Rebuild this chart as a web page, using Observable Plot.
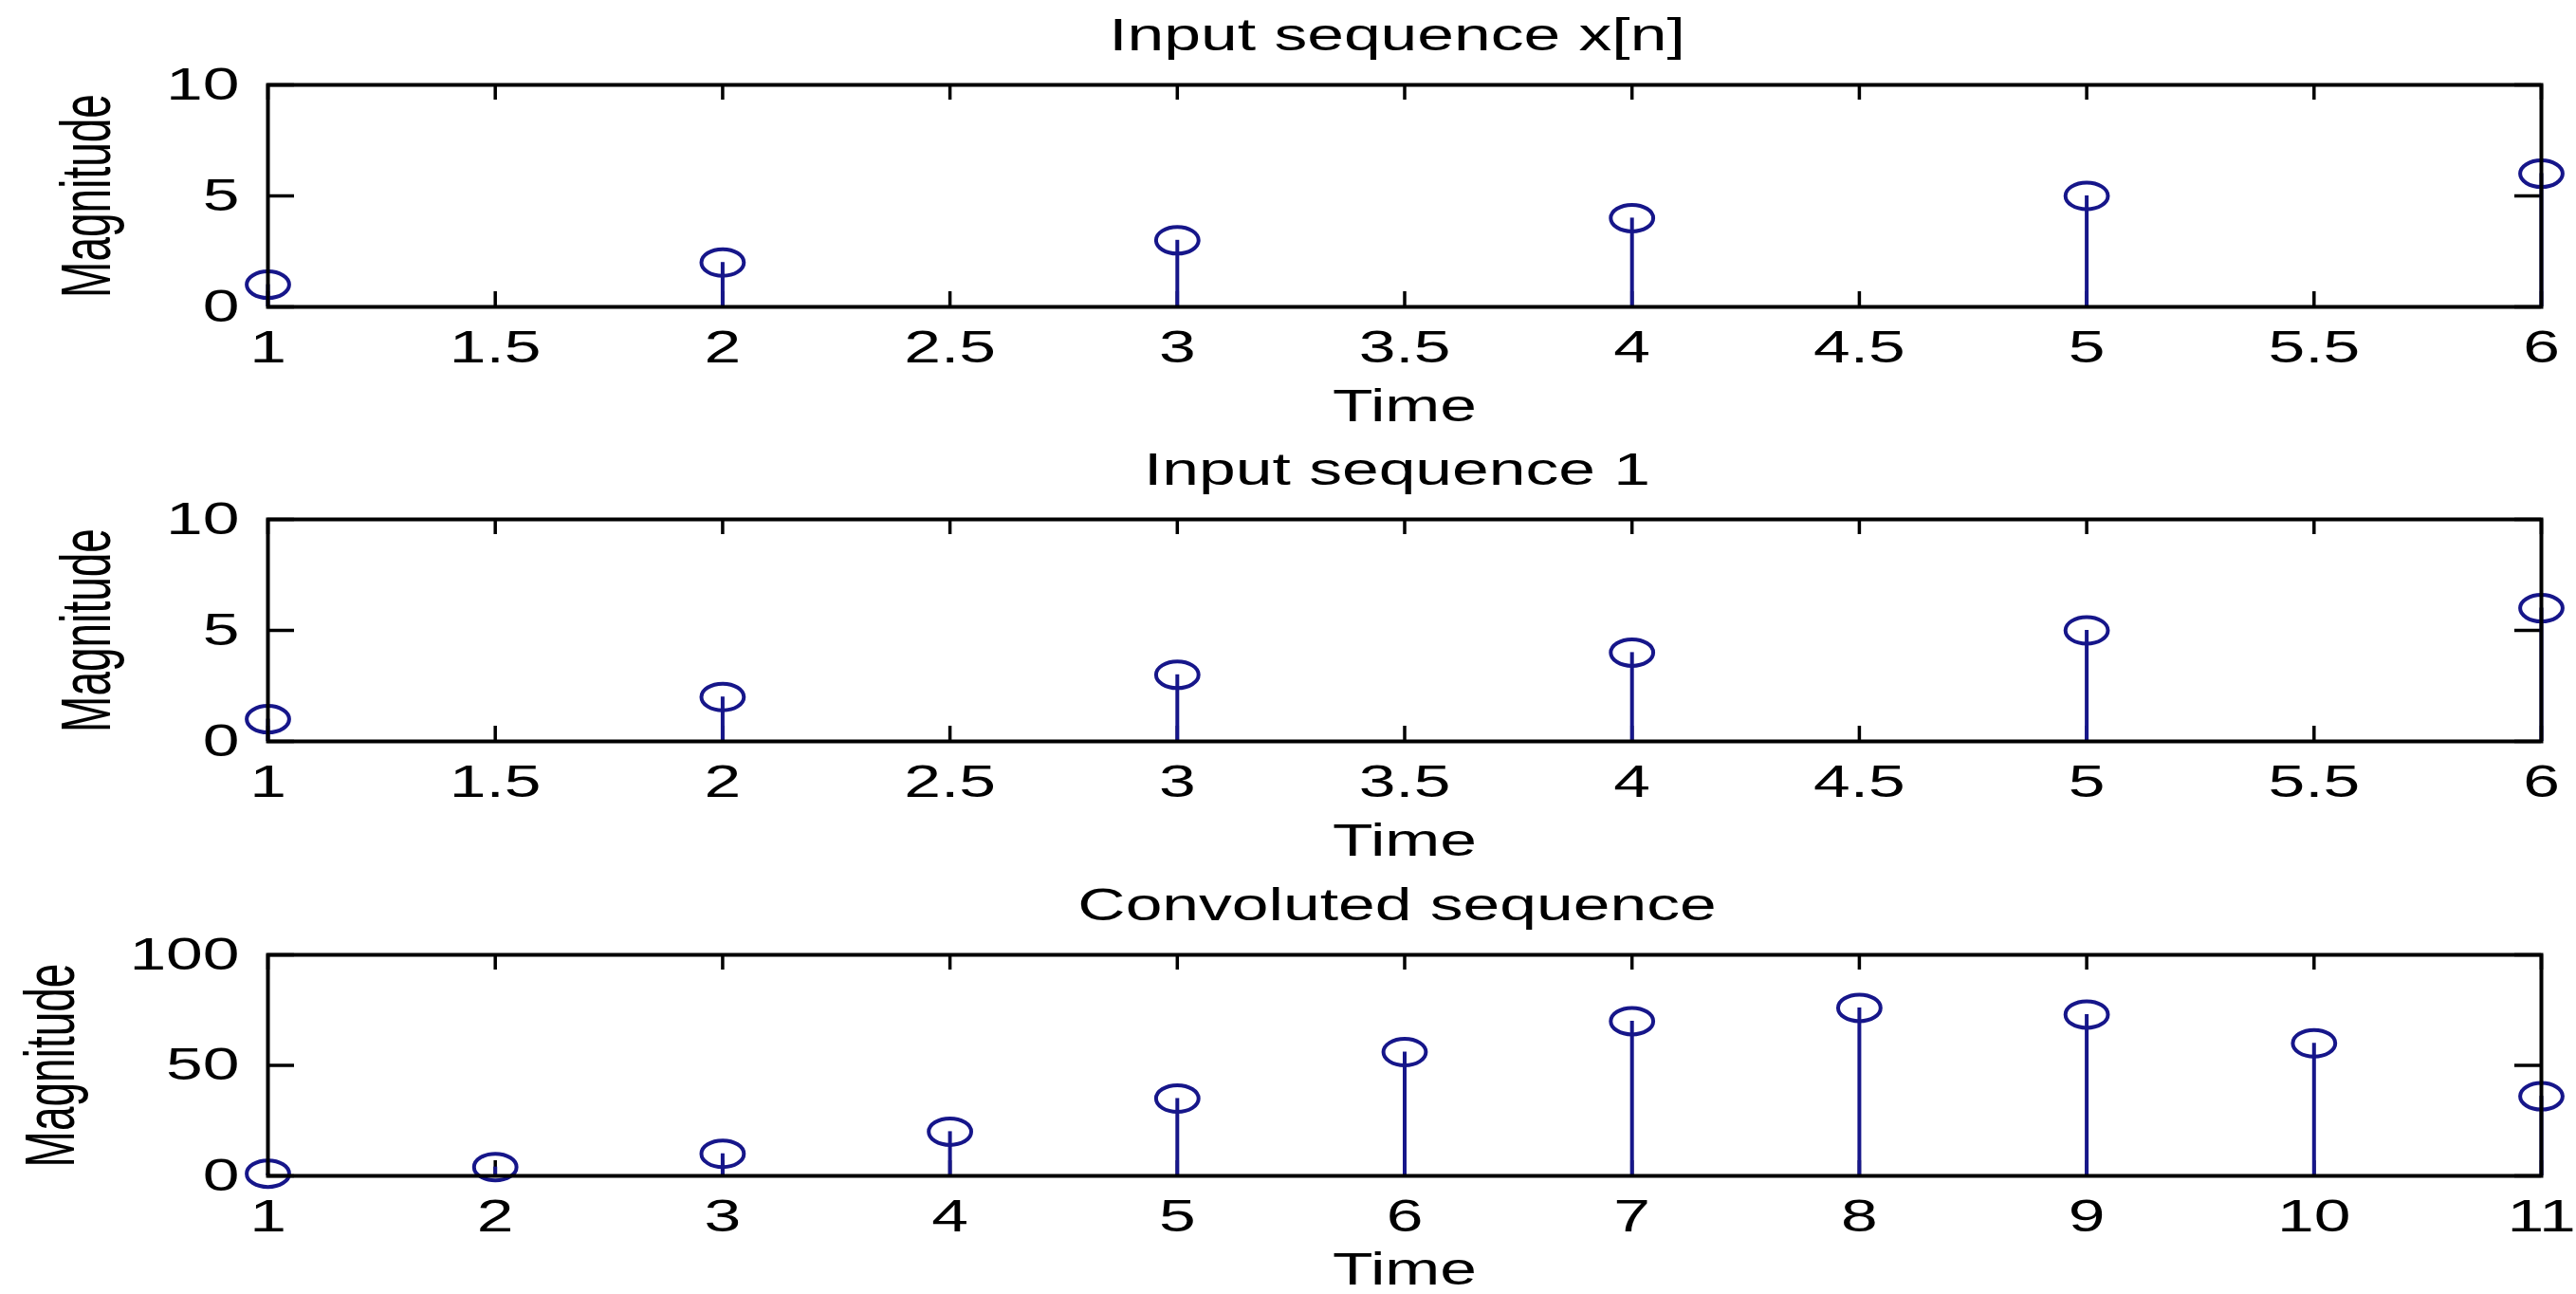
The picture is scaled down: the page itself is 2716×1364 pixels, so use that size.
<!DOCTYPE html>
<html><head><meta charset="utf-8">
<script src="https://cdn.jsdelivr.net/npm/d3@7"></script>
<script src="https://cdn.jsdelivr.net/npm/@observablehq/plot@0.6"></script>
<style>
body{margin:0;background:#fff;}
#chart>div{line-height:0;}
svg{display:block;}
</style>
</head><body><div id="chart"></div>
<script>
// ---- data ----
const timeX = [1, 2, 3, 4, 5, 6];
const inputX = [1, 2, 3, 4, 5, 6];
const timeH = [1, 2, 3, 4, 5, 6];
const inputH = [1, 2, 3, 4, 5, 6];
const timeY = [1, 2, 3, 4, 5, 6, 7, 8, 9, 10, 11];
const convY = [1, 4, 10, 20, 35, 56, 70, 76, 73, 60, 36];
const titles = ["Input sequence x[n]", "Input sequence 1", "Convoluted sequence"];
const xTicksShort = [1, 1.5, 2, 2.5, 3, 3.5, 4, 4.5, 5, 5.5, 6];
const xTicksLong = [1, 2, 3, 4, 5, 6, 7, 8, 9, 10, 11];
const yTicksSmall = [0, 5, 10];
const yTicksLarge = [0, 50, 100];
const xLabel = "Time";
const yLabel = "Magnitude";

// ---- style ----
const navy = "#16168a";
const STRETCH = 1.45;
const ellipse = {
  draw(ctx, size) {
    const r = Math.sqrt(size / Math.PI);
    const rx = r * 1.6, ry = r, k = 0.5523;
    ctx.moveTo(rx, 0);
    ctx.bezierCurveTo(rx, ry * k, rx * k, ry, 0, ry);
    ctx.bezierCurveTo(-rx * k, ry, -rx, ry * k, -rx, 0);
    ctx.bezierCurveTo(-rx, -ry * k, -rx * k, -ry, 0, -ry);
    ctx.bezierCurveTo(rx * k, -ry, rx, -ry * k, rx, 0);
    ctx.closePath();
  }
};

function panel({t, v, title, xTicks, yTicks, height, marginBottom, yLabelOffset, xLabelOffset}) {
  const W = 2716, mL = 282, mR = 37, mT = 89;
  const fw = W - mL - mR, fh = height - mT - marginBottom;
  const data = t.map((n, i) => ({n, v: v[i]}));
  const tick = {stroke: "black", strokeWidth: 3.5};
  return Plot.plot({
    width: W, height,
    marginLeft: mL, marginRight: mR, marginTop: mT, marginBottom,
    style: {fontFamily: "'Liberation Sans', Arial, sans-serif", fontSize: "48px", background: "white", color: "black", overflow: "visible"},
    x: {domain: [xTicks[0], xTicks[xTicks.length - 1]]},
    y: {domain: [yTicks[0], yTicks[yTicks.length - 1]]},
    marks: [
      Plot.ruleX(xTicks, {x: d => d, insetTop: fh - 16, ...tick}),
      Plot.ruleX(xTicks, {x: d => d, insetBottom: fh - 16, ...tick}),
      Plot.ruleY(yTicks, {y: d => d, insetRight: fw - 28, ...tick}),
      Plot.ruleY(yTicks, {y: d => d, insetLeft: fw - 28, ...tick}),
      Plot.axisX({ticks: xTicks, tickSize: 0, tickPadding: 24, tickFormat: d => String(d),
        label: xLabel, labelAnchor: "center", labelOffset: xLabelOffset, labelArrow: "none", fill: "black"}),
      Plot.axisY({ticks: yTicks, tickSize: 0, tickPadding: 30, tickFormat: d => String(d),
        label: yLabel, labelAnchor: "center", labelOffset: yLabelOffset, labelArrow: "none", fill: "black"}),
      Plot.ruleX(data, {x: "n", y1: 0, y2: "v", stroke: navy, strokeWidth: 4}),
      Plot.dot(data, {x: "n", y: "v", r: 14, symbol: ellipse, stroke: navy, strokeWidth: 4, fill: "none"}),
      Plot.frame({stroke: "black", strokeWidth: 4}),
      Plot.text([title], {text: d => d, frameAnchor: "top", dy: -37, dx: -8, lineAnchor: "bottom", fill: "black"})
    ]
  });
}

function stretch(svg) {
  svg.querySelectorAll("text").forEach(t => {
    const g = t.closest("g[aria-label]");
    const lab = g ? g.getAttribute("aria-label") : "";
    if (lab === "y-axis label") {
      // rotated label: keep its length, widen its glyphs horizontally on screen
      t.style.fontSize = "46px";
      const tr = t.getAttribute("transform") || "";
      t.setAttribute("transform", tr + " scale(1,1.6)");
    } else {
      const w = t.getComputedTextLength();
      t.setAttribute("textLength", w * STRETCH);
      t.setAttribute("lengthAdjust", "spacingAndGlyphs");
    }
  });
}

const root = document.getElementById("chart");
const specs = [
  {t: timeX, v: inputX, title: titles[0], xTicks: xTicksShort, yTicks: yTicksSmall, height: 458, marginBottom: 135, yLabelOffset: 219, xLabelOffset: 120},
  {t: timeH, v: inputH, title: titles[1], xTicks: xTicksShort, yTicks: yTicksSmall, height: 459, marginBottom: 136, yLabelOffset: 219, xLabelOffset: 120},
  {t: timeY, v: convY, title: titles[2], xTicks: xTicksLong, yTicks: yTicksLarge, height: 447, marginBottom: 125, yLabelOffset: 257, xLabelOffset: 114}
];
for (const s of specs) {
  const div = document.createElement("div");
  root.append(div);
  const svg = panel(s);
  div.append(svg);
  stretch(svg);
}
</script>
</body></html>
